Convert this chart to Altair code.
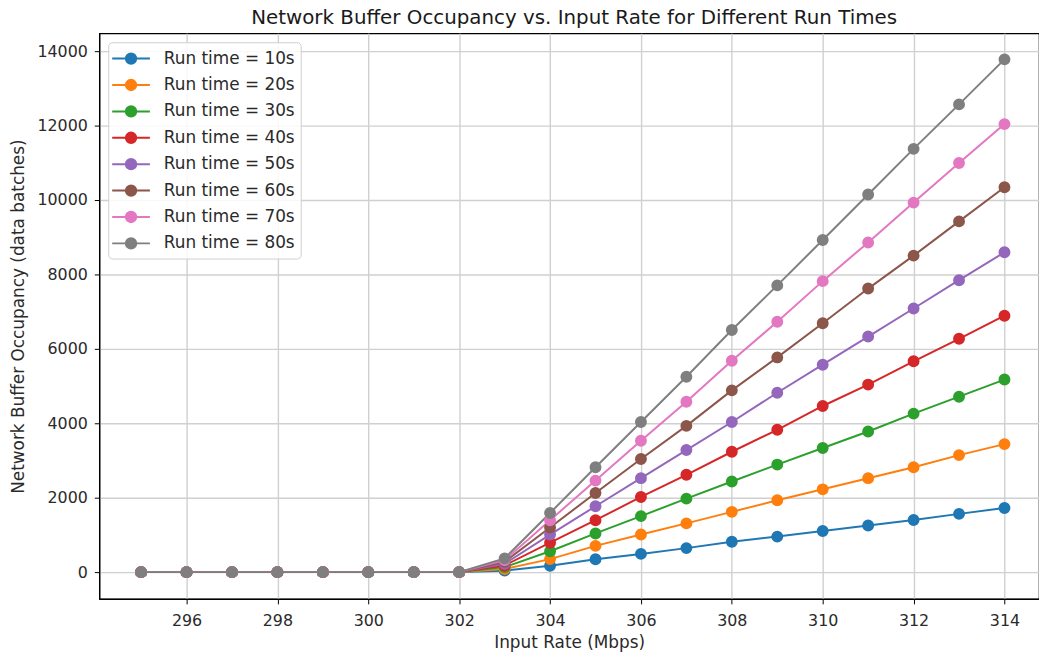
import altair as alt
import pandas as pd

rates = list(range(295, 315))
run_labels = ["Run time = 10s", "Run time = 20s", "Run time = 30s", "Run time = 40s",
              "Run time = 50s", "Run time = 60s", "Run time = 70s", "Run time = 80s"]
colors = ["#1f77b4", "#ff7f0e", "#2ca02c", "#d62728", "#9467bd", "#8c564b", "#e377c2", "#7f7f7f"]

z = [0] * 8
rt10 = z + [40, 170, 345, 490, 645, 815, 955, 1105, 1255, 1400, 1565, 1725]
rt20 = z + [85, 350, 705, 1010, 1310, 1620, 1930, 2225, 2525, 2820, 3145, 3440]
rt30 = z + [135, 560, 1040, 1505, 1975, 2435, 2890, 3335, 3780, 4260, 4715, 5175]
rt40 = z + [180, 790, 1395, 2020, 2615, 3235, 3825, 4465, 5040, 5665, 6270, 6890]
rt50 = z + [225, 1010, 1770, 2525, 3280, 4035, 4820, 5575, 6330, 7085, 7845, 8595]
rt60 = z + [275, 1200, 2125, 3040, 3930, 4885, 5770, 6690, 7620, 8505, 9425, 10345]
rt70 = z + [320, 1395, 2460, 3530, 4580, 5680, 6730, 7820, 8860, 9930, 10995, 12040]
rt80 = z + [370, 1590, 2820, 4035, 5250, 6505, 7705, 8925, 10150, 11375, 12570, 13780]

series = [rt10, rt20, rt30, rt40, rt50, rt60, rt70, rt80]
rows = []
for i, (lab, vals) in enumerate(zip(run_labels, series)):
    for r, v in zip(rates, vals):
        rows.append({"rate": r, "occ": v, "run": lab, "order": i})
df = pd.DataFrame(rows)

FONT = "DejaVu Sans"
TXT = "#2a2a2a"
scale = alt.Scale(domain=run_labels, range=colors)

# line + dot legend glyph (path spans -2..2 horizontally)
sym = "M-2,0H-0.55A0.55,0.55,0,1,1,0.55,0H2M0.55,0A0.55,0.55,0,1,1,-0.55,0"
legend = alt.Legend(
    title=None, orient="none", legendX=9, legendY=9,
    symbolType=sym, symbolSize=361, symbolStrokeWidth=2, symbolOpacity=1,
    labelFontSize=17, labelFont=FONT, labelColor=TXT, labelOffset=22.5,
    rowPadding=6.6, padding=6, strokeColor="#d0d0d0", fillColor="rgba(255,255,255,0.85)",
    cornerRadius=4, labelLimit=300, symbolOffset=6.5,
)

x = alt.X("rate:Q", title="Input Rate (Mbps)",
          scale=alt.Scale(domain=[294.08, 314.76], nice=False, zero=False),
          axis=alt.Axis(values=list(range(296, 315, 2)), format="d"))
y = alt.Y("occ:Q", title="Network Buffer Occupancy (data batches)",
          scale=alt.Scale(domain=[-720, 14480], nice=False, zero=False),
          axis=alt.Axis(values=list(range(0, 14001, 2000)), format="d"))

lines = alt.Chart(df).mark_line(strokeWidth=2).encode(
    x=x, y=y,
    stroke=alt.Stroke("run:N", scale=scale, legend=legend, sort=run_labels),
    order="rate:Q",
)
points = alt.Chart(df).mark_point(filled=True, size=100, opacity=1).encode(
    x=x, y=y,
    fill=alt.Fill("run:N", scale=scale, legend=legend, sort=run_labels),
    stroke=alt.Stroke("run:N", scale=scale, legend=legend, sort=run_labels),
    order="order:Q",
)

chart = alt.layer(lines, points).properties(
    width=947, height=570,
    title=alt.TitleParams("Network Buffer Occupancy vs. Input Rate for Different Run Times",
                          fontSize=20, font=FONT, fontWeight="normal", color="#1a1a1a",
                          offset=5, dx=5),
    padding={"left": 92, "top": 23, "right": 0, "bottom": 52},
    autosize=alt.AutoSizeParams(type="none"),
).configure_view(
    stroke="#000", strokeWidth=1.2
).configure_axis(
    grid=True, gridColor="#d0d0d0", gridWidth=1.4,
    domainColor="#000", domainWidth=1.2,
    tickColor="#000", tickSize=5, tickWidth=1,
    labelFont=FONT, labelFontSize=16, labelColor=TXT,
    titleFont=FONT, titleFontSize=17, titleFontWeight="normal", titleColor=TXT,
).configure_axisX(labelPadding=9, titlePadding=6).configure_axisY(labelPadding=7, titlePadding=9)

chart.save("out.html", embed_options={"renderer": "svg", "actions": False})
